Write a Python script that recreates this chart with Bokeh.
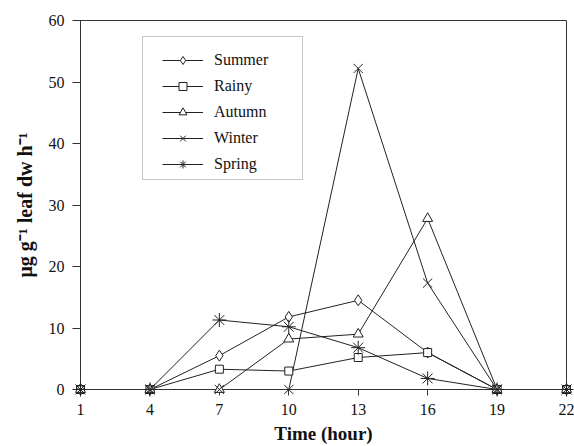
from bokeh.plotting import figure
from bokeh.models import Range1d, FixedTicker, Legend, LegendItem, BoxAnnotation
from bokeh.embed import file_html
from bokeh.resources import INLINE

hours = [1, 4, 7, 10, 13, 16, 19, 22]
summer = [0, 0, 5.5, 11.8, 14.5, 6.0, 0, 0]
rainy = [0, 0, 3.3, 3.0, 5.2, 6.0, 0, 0]
autumn = [0, 0, 0, 8.2, 9.0, 27.8, 0, 0]
winter = [0, 0, 0, 0, 52.2, 17.3, 0, 0]
spring = [0, 0, 11.3, 10.2, 6.8, 1.8, 0, 0]
y_ticks = [0, 10, 20, 30, 40, 50, 60]

series = [
    ("Summer", summer, "diamond", 11),
    ("Rainy", rainy, "square", 8),
    ("Autumn", autumn, "triangle", 10),
    ("Winter", winter, "x", 13),
    ("Spring", spring, "asterisk", 14),
]

SERIF = "Liberation Serif"
INK = "#222222"
AX = "#333333"

p = figure(width=574, height=446, output_backend="svg", toolbar_location=None,
           x_range=Range1d(hours[0], hours[-1]), y_range=Range1d(y_ticks[0], y_ticks[-1]),
           min_border_left=80, min_border_right=8, min_border_top=20,
           min_border_bottom=53)
p.grid.visible = False
p.outline_line_color = AX
p.outline_line_width = 1
p.background_fill_color = "white"
p.border_fill_color = "white"

p.xaxis.ticker = FixedTicker(ticks=hours)
p.yaxis.ticker = FixedTicker(ticks=y_ticks)
for ax in (p.xaxis, p.yaxis):
    ax.axis_line_color = AX
    ax.major_tick_line_color = AX
    ax.minor_tick_line_color = None
    ax.major_tick_in = 0
    ax.major_label_text_font = SERIF
    ax.major_label_text_font_size = "16px"
    ax.major_label_text_color = "#111111"
    ax.axis_label_text_font = SERIF
    ax.axis_label_text_font_style = "bold"
    ax.axis_label_text_color = "#111111"
p.xaxis.major_tick_out = 6
p.xaxis.major_label_standoff = 8
p.yaxis.major_tick_out = 8
p.yaxis.major_label_standoff = 8
p.xaxis.axis_label = "Time (hour)"
p.xaxis.axis_label_text_font_size = "19px"
p.xaxis.axis_label_standoff = 5
p.yaxis.axis_label = "\u03bcg g\u207b\u00b9 leaf dw h\u207b\u00b9"
p.yaxis.axis_label_text_font_size = "20px"
p.yaxis.axis_label_standoff = 10

items = []
for name, vals, marker, size in series:
    lr = p.line(hours, vals, line_color=INK, line_width=1)
    sr = p.scatter(hours, vals, marker=marker, size=size, line_color=INK,
                   fill_color="white", line_width=1, level="overlay")
    items.append(LegendItem(label=name, renderers=[lr, sr]))

legend = Legend(items=items, location=(82, 215), border_line_alpha=0,
                background_fill_alpha=0, padding=0, spacing=6, margin=0,
                glyph_width=41, glyph_height=20, label_height=20,
                label_standoff=11, label_text_font=SERIF,
                label_text_font_size="16px", label_text_color="#111111")
p.add_layout(legend)

box = BoxAnnotation(left=62, right=222, top=353, bottom=210,
                    left_units="screen", right_units="screen",
                    top_units="screen", bottom_units="screen",
                    fill_alpha=0, line_color="#444444", line_width=1)
p.add_layout(box)

open("out.html", "w").write(file_html(p, INLINE))
